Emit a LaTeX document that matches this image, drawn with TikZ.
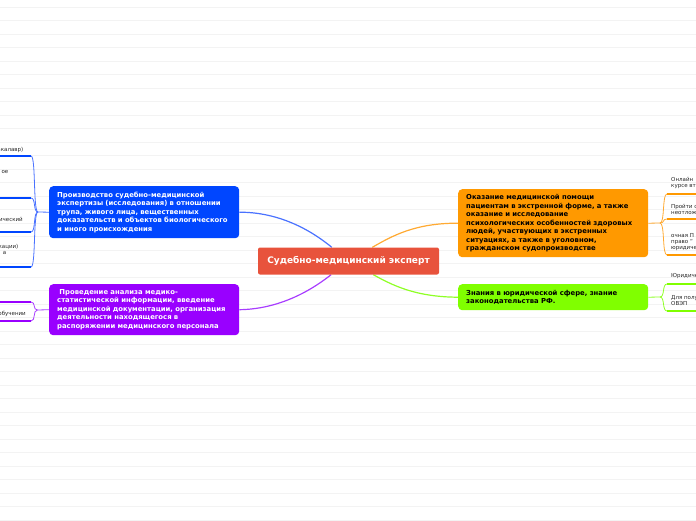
\documentclass[tikz,border=0pt]{standalone}
\usepackage{fontspec}
\setmainfont{DejaVu Sans}
\usepackage{tikz}
\usetikzlibrary{backgrounds}
\definecolor{rootbg}{HTML}{E8533C}
\definecolor{bluebg}{HTML}{0046FF}
\definecolor{purplebg}{HTML}{9900FF}
\definecolor{orangebg}{HTML}{FF9900}
\definecolor{greenbg}{HTML}{80FF00}
\definecolor{blueln}{HTML}{4A72FF}
\definecolor{purpleln}{HTML}{A83DFF}
\definecolor{orangeln}{HTML}{FFAA33}
\definecolor{greenln}{HTML}{8FFF26}
\definecolor{gridgray}{HTML}{F3F3F3}

\begin{document}
\begin{tikzpicture}[x=1pt,y=-1pt,
  topbox/.style={rounded corners=4pt,align=left,inner xsep=8pt,inner ysep=0pt,
    text width=174pt,anchor=north west,font=\fontsize{6.85}{8.5}\selectfont\bfseries},
  rootbox/.style={rounded corners=2pt,fill=rootbg,text=white,minimum width=181pt,
    minimum height=27pt,inner sep=0pt,font=\fontsize{9}{11}\selectfont\bfseries},
  subtxt/.style={align=left,inner sep=0pt,text=black!85,font=\fontsize{5.5}{6}\selectfont},
  mainln/.style={line width=1.2pt},
  branchln/.style={line width=0.8pt},
  underln/.style={line width=2pt},
  gridln/.style={draw=gridgray,line width=0.6pt}]
\useasboundingbox (0,0) rectangle (696,520);
\clip (0,0) rectangle (696,520);
\coordinate (edgeL) at (-5,0);
\coordinate (edgeR) at (701,0);

% central topic and main branches
\node[rootbox] (root) at (348.5,261) {Судебно-медицинский эксперт};
\node[topbox,fill=bluebg,text=white,minimum height=52pt] (expert) at (49,186)
  {Производство судебно-медицинской\\\mbox{экспертизы (исследования) в отношении}\\трупа, живого лица, вещественных\\\mbox{доказательств и объектов биологического}\\и иного происхождения};
\node[topbox,fill=purplebg,text=white,minimum height=51pt] (stats) at (49,284)
  {\ Проведение анализа медико-\\\mbox{статистической информации, введение}\\\mbox{медицинской документации, организация}\\деятельности находящегося в\\\mbox{распоряжении медицинского персонала}};
\node[topbox,fill=orangebg,text=black,minimum height=68pt] (urgent) at (458,189)
  {Оказание медицинской помощи\\\mbox{пациентам в экстренной форме, а также}\\оказание и исследование\\\mbox{психологических особенностей здоровых}\\людей, участвующих в экстренных\\ситуациях, а также в уголовном,\\гражданском судопроизводстве};
\node[topbox,fill=greenbg,text=black,minimum height=26pt] (law) at (458,284)
  {Знания в юридической сфере, знание\\законодательства РФ.};

% subtopics, cut by the page edge
\node[subtxt,anchor=east] (b1t) at (23.5,150) {(бакалавр)};
\node[subtxt,anchor=east] (b2t) at (8.5,172) {ое};
\node[subtxt,anchor=east] (b3t) at (23,219) {биологический};
\node[subtxt,anchor=east] (b4t) at (18.5,246.5) {(квалификации)};
\node[subtxt,anchor=east] (b4u) at (6.5,252.5) {а};
\node[subtxt,anchor=east] (p2t) at (26,313.5) {обучении};
\node[subtxt,anchor=north west] (o1t) at (671,177) {Онлайн\\курсе вт};
\node[subtxt,anchor=north west] (o2t) at (671,204) {Пройти с\\неотложной};
\node[subtxt,anchor=north west] (o3t) at (671,233) {очная П\\право “\\юридической};
\node[subtxt,anchor=north west] (g1t) at (671,273) {Юридическ};
\node[subtxt,anchor=north west] (g2t) at (671,295) {Для получ\\ОВЭП};

\coordinate (bj) at (38,212);
\coordinate (b1) at (31,156);
\coordinate (b2) at (31,198);
\coordinate (b3) at (31,232);
\coordinate (b4) at (31,267);
\coordinate (pj) at (37.5,310);
\coordinate (p1) at (31,302);
\coordinate (p2) at (31,321);
\coordinate (oj) at (660,223);
\coordinate (o1) at (667,194);
\coordinate (o2) at (667,219);
\coordinate (o3) at (667,255);
\coordinate (gj) at (660,297);
\coordinate (g1) at (667,284);
\coordinate (g2) at (667,311);

\begin{scope}[on background layer]
\foreach \y in {7,20.5,...,520} \draw[gridln] (0,\y) -- (696,\y);
\draw[mainln,blueln] (expert.east) .. controls (285,212) and (318,236) .. (root);
\draw[mainln,purpleln] (stats.east) .. controls (285,309) and (318,285) .. (root);
\draw[mainln,orangeln] (root) .. controls (392,236) and (415,223) .. (urgent.west);
\draw[mainln,greenln] (root) .. controls (392,285) and (415,297) .. (law.west);
\end{scope}

% left branches
\draw[branchln,blueln] (expert.west) -- (bj);
\foreach \c in {b1,b2,b3,b4}{
  \draw[branchln,blueln] (bj) .. controls +(-5,0) and +(5,0) .. (\c);
  \draw[underln,bluebg] (\c) -- (\c -| edgeL);}
\draw[branchln,purpleln] (stats.west) -- (pj);
\foreach \c in {p1,p2}{
  \draw[branchln,purpleln] (pj) .. controls +(-5,0) and +(5,0) .. (\c);
  \draw[underln,purplebg] (\c) -- (\c -| edgeL);}

% right branches
\draw[branchln,orangeln] (urgent.east) -- (oj);
\foreach \c in {o1,o2,o3}{
  \draw[branchln,orangeln] (oj) .. controls +(5,0) and +(-5,0) .. (\c);
  \draw[underln,orangebg] (\c) -- (\c -| edgeR);}
\draw[branchln,greenln] (law.east) -- (gj);
\foreach \c in {g1,g2}{
  \draw[branchln,greenln] (gj) .. controls +(5,0) and +(-5,0) .. (\c);
  \draw[underln,greenbg] (\c) -- (\c -| edgeR);}
\end{tikzpicture}
\end{document}
